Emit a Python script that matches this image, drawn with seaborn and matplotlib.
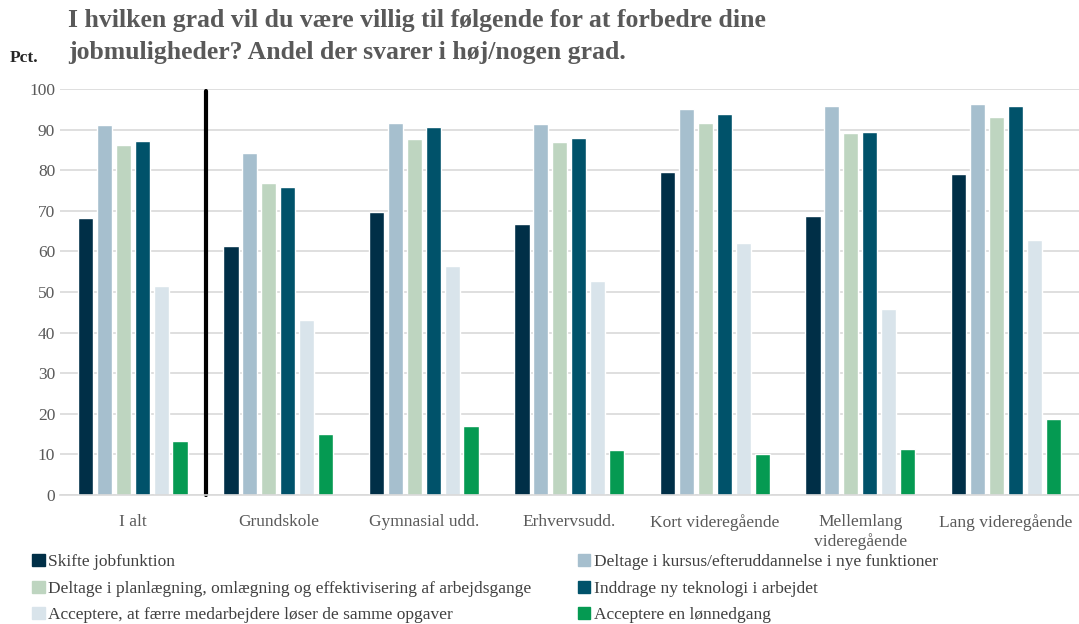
import matplotlib.pyplot as plt
import numpy as np
import pandas as pd
import seaborn as sns

groups = ['I alt', 'Grundskole', 'Gymnasial udd.', 'Erhvervsudd.',
          'Kort videregående', 'Mellemlang\nvideregående', 'Lang videregående']
series = ['Skifte jobfunktion',
          'Deltage i kursus/efteruddannelse i nye funktioner',
          'Deltage i planlægning, omlægning og effektivisering af arbejdsgange',
          'Inddrage ny teknologi i arbejdet',
          'Acceptere, at færre medarbejdere løser de samme opgaver',
          'Acceptere en lønnedgang']
skifte = [68.3, 61.3, 69.8, 66.8, 79.5, 68.7, 79.1]
kursus = [91.2, 84.2, 91.7, 91.3, 95.0, 95.7, 96.4]
planl = [86.1, 76.9, 87.6, 86.9, 91.7, 89.1, 93.2]
tekno = [87.2, 75.8, 90.6, 88.0, 93.9, 89.4, 95.8]
faerre = [51.6, 43.2, 56.5, 52.8, 62.0, 45.8, 62.8]
loen = [13.2, 15.0, 16.9, 11.0, 10.2, 11.3, 18.6]
colors = ['#002F47', '#A6BFCE', '#BED5C0', '#00526A', '#D9E4EB', '#059A52']

rows = []
for name, vals in zip(series, [skifte, kursus, planl, tekno, faerre, loen]):
    for g, v in zip(groups, vals):
        rows.append({'Gruppe': g, 'Serie': name, 'Pct': v})
df = pd.DataFrame(rows)

sns.set_style('white')
plt.rcParams['font.family'] = ['Liberation Serif', 'DejaVu Serif']

fig = plt.figure(figsize=(10.79, 6.24), dpi=100)
ax = fig.add_axes([0.0556, 0.2067, 0.944, 0.6507])
sns.barplot(data=df, x='Gruppe', y='Pct', hue='Serie', order=groups,
            hue_order=series, palette=colors, width=0.78, gap=0.2,
            saturation=1, legend=False, ax=ax)

ax.set_ylim(0, 100)
ax.set_yticks(np.arange(0, 101, 10))
ax.yaxis.grid(True, color='#D9D9D9', lw=1.2)
ax.set_axisbelow(True)
for s in ['top', 'right', 'left']:
    ax.spines[s].set_visible(False)
ax.spines['bottom'].set_color('#D9D9D9')
ax.spines['bottom'].set_linewidth(1.2)
ax.tick_params(axis='both', length=0, labelsize=12.5, colors='#595959')
ax.tick_params(axis='x', pad=14)
ax.set_xlabel('')
ax.set_ylabel('')
ax.axvline(0.5, 0, 0.995, color='black', lw=3, clip_on=False)

fig.text(0.063, 0.985, 'I hvilken grad vil du være villig til følgende for at forbedre dine\n'
         'jobmuligheder? Andel der svarer i høj/nogen grad.',
         fontsize=18.5, fontweight='bold', color='#595959', va='top',
         linespacing=1.5)
fig.text(0.009, 0.9, 'Pct.', fontsize=12.5, fontweight='bold', color='#262626')

handles = [plt.Rectangle((0, 0), 1, 1, color=c) for c in colors]
kw = dict(frameon=False, fontsize=12.5, handlelength=0.7, handleheight=0.7,
          handletextpad=0.2, labelspacing=0.6, loc='upper left',
          labelcolor='#404040', borderaxespad=0, borderpad=0)
fig.legend([handles[i] for i in [0, 2, 4]], [series[i] for i in [0, 2, 4]],
           bbox_to_anchor=(0.03, 0.112), **kw)
fig.legend([handles[i] for i in [1, 3, 5]], [series[i] for i in [1, 3, 5]],
           bbox_to_anchor=(0.536, 0.112), **kw)

fig.savefig('out.png', dpi=100)
